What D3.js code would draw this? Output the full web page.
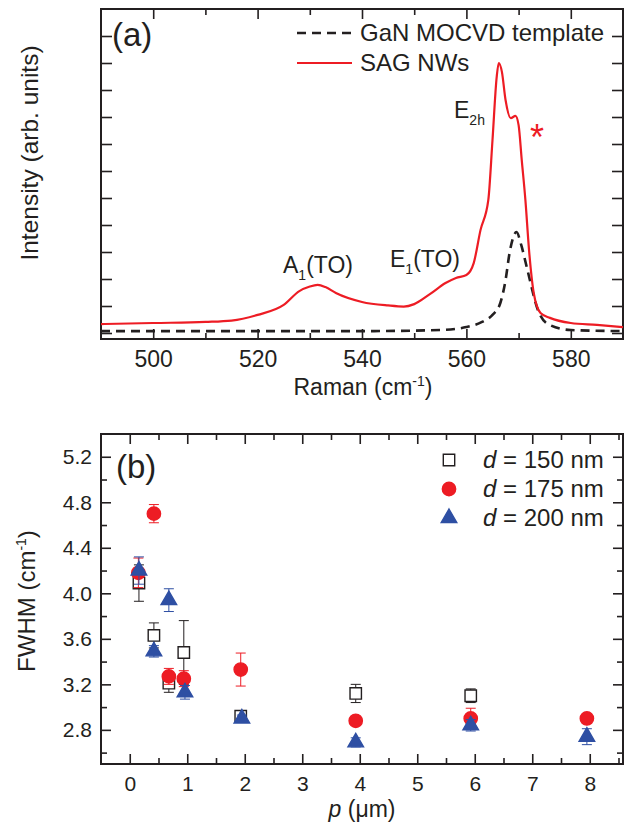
<!DOCTYPE html>
<html>
<head>
<meta charset="utf-8">
<script src="https://cdn.jsdelivr.net/npm/d3@7"></script>
<style>
  body { margin: 0; background: #fff; }
  text { font-family: "Liberation Sans", Arial, sans-serif; fill: #231f20; }
</style>
</head>
<body>
<svg id="chart"></svg>
<script>
// ---- panel (a) data: Raman spectra ----
const nwShift = [490, 500, 510, 515, 520, 525, 528, 530, 531.5, 533, 535, 540, 545, 548, 550, 553, 556, 558, 560,
  561.4, 562.7, 564.2, 565, 565.8, 566.2, 566.8, 567.5, 568.5, 569.4, 570, 570.6, 571.3, 572, 572.9, 574.2, 576, 580, 585, 590];
const nwIntensity = [0.33, 0.37, 0.41, 0.46, 0.67, 1.04, 1.55, 1.72, 1.78, 1.70, 1.48, 1.15, 1.02, 0.98, 1.07, 1.44, 1.85, 2.04, 2.15,
  2.59, 3.81, 4.93, 7.15, 9.48, 10.0, 9.67, 8.63, 7.96, 8.04, 7.70, 6.41, 4.93, 3.07, 1.48, 0.74, 0.56, 0.37, 0.30, 0.22];
const tplShift = [490, 520, 540, 555, 560, 563, 565, 566.5, 567.5, 568.3, 569.6, 570.5, 571.7, 573.7, 575.6, 580, 590];
const tplIntensity = [0.07, 0.07, 0.07, 0.11, 0.22, 0.41, 0.67, 1.11, 1.96, 3.0, 3.74, 3.26, 2.33, 0.85, 0.33, 0.11, 0.07];
const ramanTicks = [500, 520, 540, 560, 580];

// ---- panel (b) data: FWHM vs pitch ----
const p150 = [0.16, 0.42, 0.68, 0.94, 1.93, 3.93, 5.93];
const fwhm150 = [4.09, 3.63, 3.21, 3.48, 2.92, 3.12, 3.10];
const err150 = [0.16, 0.11, 0.08, 0.28, 0.03, 0.08, 0.06];
const p175 = [0.15, 0.42, 0.68, 0.94, 1.93, 3.93, 5.93, 7.95];
const fwhm175 = [4.18, 4.70, 3.27, 3.25, 3.33, 2.88, 2.90, 2.90];
const err175 = [0.13, 0.08, 0.07, 0.07, 0.145, 0.02, 0.09, 0.02];
const p200 = [0.16, 0.42, 0.68, 0.96, 1.95, 3.93, 5.93, 7.95];
const fwhm200 = [4.20, 3.49, 3.94, 3.13, 2.90, 2.69, 2.84, 2.74];
const err200 = [0.12, 0.05, 0.10, 0.06, 0.03, 0.04, 0.05, 0.07];
const fwhmTicks = [2.8, 3.2, 3.6, 4.0, 4.4, 4.8, 5.2];
const pitchTicks = [0, 1, 2, 3, 4, 5, 6, 7, 8];

const WIDTH = 624, HEIGHT = 828;
const INK = "#231f20", RED = "#ed1c24", BLUE = "#2e4fa3";

const svg = d3.select("#chart").attr("width", WIDTH).attr("height", HEIGHT);

// panel boxes
const A = { left: 101, right: 623, top: 9, bottom: 339 };
const B = { left: 101, right: 623, top: 434, bottom: 764 };

function styleAxis(size) {
  return g => {
    g.select(".domain").remove();
    g.selectAll(".tick line").attr("stroke", INK).attr("stroke-width", 1.6);
    g.selectAll(".tick text").style("font-size", size + "px").attr("fill", INK);
  };
}

// ================= panel (a) =================
const xA = d3.scaleLinear().domain([490, 590]).range([A.left, A.right]);
const yA = d3.scaleLinear().domain([-6 / 27, 12]).range([A.bottom, A.top]);

const ga = svg.append("g");
const minorRaman = d3.range(510, 590, 20);

ga.append("g").attr("transform", `translate(0,${A.bottom})`)
  .call(d3.axisBottom(xA).tickValues(minorRaman).tickSize(-6).tickFormat("")).call(styleAxis(23));
ga.append("g").attr("transform", `translate(0,${A.bottom})`)
  .call(d3.axisBottom(xA).tickValues(ramanTicks).tickSize(-10).tickPadding(12)).call(styleAxis(23));
ga.append("g").attr("transform", `translate(0,${A.top})`)
  .call(d3.axisTop(xA).tickValues(minorRaman).tickSize(-6).tickFormat("")).call(styleAxis(23));
ga.append("g").attr("transform", `translate(0,${A.top})`)
  .call(d3.axisTop(xA).tickValues(ramanTicks).tickSize(-10).tickFormat("")).call(styleAxis(23));
ga.append("g").attr("transform", `translate(${A.left},0)`)
  .call(d3.axisLeft(yA).tickValues(d3.range(0, 12)).tickSize(-11).tickFormat("")).call(styleAxis(23));
ga.append("g").attr("transform", `translate(${A.right},0)`)
  .call(d3.axisRight(yA).tickValues(d3.range(0, 12)).tickSize(-11).tickFormat("")).call(styleAxis(23));

ga.append("rect")
  .attr("x", A.left).attr("y", A.top)
  .attr("width", A.right - A.left).attr("height", A.bottom - A.top)
  .attr("fill", "none").attr("stroke", INK).attr("stroke-width", 2);

const lineSpec = d3.line().x(d => xA(d[0])).y(d => yA(d[1])).curve(d3.curveMonotoneX);

ga.append("path")
  .datum(tplShift.map((s, i) => [s, tplIntensity[i]]))
  .attr("d", lineSpec)
  .attr("fill", "none").attr("stroke", INK).attr("stroke-width", 2.6)
  .attr("stroke-dasharray", "9,6");

ga.append("path")
  .datum(nwShift.map((s, i) => [s, nwIntensity[i]]))
  .attr("d", lineSpec)
  .attr("fill", "none").attr("stroke", RED).attr("stroke-width", 2.2);

// legend (a)
ga.append("line").attr("x1", 297).attr("x2", 352).attr("y1", 33).attr("y2", 33)
  .attr("stroke", INK).attr("stroke-width", 2.6).attr("stroke-dasharray", "9,6");
ga.append("text").attr("x", 360).attr("y", 41).style("font-size", "24px").text("GaN MOCVD template");
ga.append("line").attr("x1", 297).attr("x2", 352).attr("y1", 63).attr("y2", 63)
  .attr("stroke", RED).attr("stroke-width", 2.2);
ga.append("text").attr("x", 360).attr("y", 71).style("font-size", "24px").text("SAG NWs");

ga.append("text").attr("x", 112).attr("y", 46).style("font-size", "33px").text("(a)");

// peak labels
function subLabel(g, x, y, main, sub, rest) {
  const t = g.append("text").attr("x", x).attr("y", y).style("font-size", "23px");
  t.append("tspan").text(main);
  t.append("tspan").attr("dy", 7).style("font-size", "14px").text(sub);
  if (rest) t.append("tspan").attr("dy", -7).text(rest);
}
subLabel(ga, 283, 273, "A", "1", "(TO)");
subLabel(ga, 390, 267, "E", "1", "(TO)");
subLabel(ga, 454, 118, "E", "2h", null);
ga.append("text").attr("x", 537).attr("y", 150).attr("text-anchor", "middle")
  .style("font-size", "36px").style("fill", RED).text("*");

// axis titles (a)
const xtA = ga.append("text").attr("x", 363).attr("y", 395).attr("text-anchor", "middle").style("font-size", "23px");
xtA.append("tspan").text("Raman (cm");
xtA.append("tspan").attr("dy", -9).style("font-size", "14px").text("-1");
xtA.append("tspan").attr("dy", 9).text(")");

ga.append("text").attr("transform", "translate(38,153) rotate(-90)").attr("text-anchor", "middle")
  .style("font-size", "24.5px").text("Intensity (arb. units)");

// ================= panel (b) =================
const xB = d3.scaleLinear().domain([-0.5, 8.6]).range([B.left, B.left + 9.1 * 57.5]);
const yB = d3.scaleLinear().domain([2.5, 5.4]).range([B.bottom, B.top]);

const gb = svg.append("g");

const halfTicks = d3.range(0, 8.6, 0.5).filter(v => Math.abs(v - Math.round(v)) > 0.1);
const minorY = d3.range(2.6, 5.4, 0.4);

gb.append("g").attr("transform", `translate(0,${B.bottom})`)
  .call(d3.axisBottom(xB).tickValues(halfTicks).tickSize(-6).tickFormat("")).call(styleAxis(21));
gb.append("g").attr("transform", `translate(0,${B.bottom})`)
  .call(d3.axisBottom(xB).tickValues(pitchTicks).tickSize(-10).tickPadding(12)).call(styleAxis(21));
gb.append("g").attr("transform", `translate(0,${B.top})`)
  .call(d3.axisTop(xB).tickValues(halfTicks).tickSize(-6).tickFormat("")).call(styleAxis(21));
gb.append("g").attr("transform", `translate(0,${B.top})`)
  .call(d3.axisTop(xB).tickValues(pitchTicks).tickSize(-10).tickFormat("")).call(styleAxis(21));
gb.append("g").attr("transform", `translate(${B.left},0)`)
  .call(d3.axisLeft(yB).tickValues(minorY).tickSize(-6).tickFormat("")).call(styleAxis(21));
gb.append("g").attr("transform", `translate(${B.left},0)`)
  .call(d3.axisLeft(yB).tickValues(fwhmTicks).tickSize(-10).tickPadding(9).tickFormat(d3.format(".1f"))).call(styleAxis(21));
gb.append("g").attr("transform", `translate(${B.right},0)`)
  .call(d3.axisRight(yB).tickValues(minorY).tickSize(-6).tickFormat("")).call(styleAxis(21));
gb.append("g").attr("transform", `translate(${B.right},0)`)
  .call(d3.axisRight(yB).tickValues(fwhmTicks).tickSize(-10).tickFormat("")).call(styleAxis(21));

gb.append("rect")
  .attr("x", B.left).attr("y", B.top)
  .attr("width", B.right - B.left).attr("height", B.bottom - B.top)
  .attr("fill", "none").attr("stroke", INK).attr("stroke-width", 2);

const series = [
  { p: p150, v: fwhm150, e: err150, sym: d3.symbolSquare, size: 130, fill: "#fff", stroke: INK, err: INK, label: "150" },
  { p: p175, v: fwhm175, e: err175, sym: d3.symbolCircle, size: 140, fill: RED, stroke: RED, err: RED, label: "175" },
  { p: p200, v: fwhm200, e: err200, sym: d3.symbolTriangle, size: 105, fill: BLUE, stroke: BLUE, err: BLUE, label: "200" }
];

series.forEach(s => {
  const pts = s.p.map((p, i) => ({ p, v: s.v[i], e: s.e[i] }));
  const eb = gb.append("g").selectAll("g").data(pts).enter().append("g");
  eb.append("line")
    .attr("x1", d => xB(d.p)).attr("x2", d => xB(d.p))
    .attr("y1", d => yB(d.v - d.e)).attr("y2", d => yB(d.v + d.e))
    .attr("stroke", s.err).attr("stroke-width", 1);
  [-1, 1].forEach(sg => {
    eb.append("line")
      .attr("x1", d => xB(d.p) - 5).attr("x2", d => xB(d.p) + 5)
      .attr("y1", d => yB(d.v + sg * d.e)).attr("y2", d => yB(d.v + sg * d.e))
      .attr("stroke", s.err).attr("stroke-width", 1);
  });
  gb.append("g").selectAll("path").data(pts).enter().append("path")
    .attr("transform", d => `translate(${xB(d.p)},${yB(d.v)})`)
    .attr("d", d3.symbol().type(s.sym).size(s.size))
    .attr("fill", s.fill).attr("stroke", s.stroke).attr("stroke-width", 1.4);
});

// legend (b)
series.forEach((s, i) => {
  const y = 460 + i * 29;
  gb.append("path")
    .attr("transform", `translate(449,${y})`)
    .attr("d", d3.symbol().type(s.sym).size(s.size))
    .attr("fill", s.fill).attr("stroke", s.stroke).attr("stroke-width", 1.4);
  const t = gb.append("text").attr("x", 483).attr("y", y + 8).style("font-size", "24px");
  t.append("tspan").style("font-style", "italic").text("d");
  t.append("tspan").text(` = ${s.label} nm`);
});

gb.append("text").attr("x", 116).attr("y", 478).style("font-size", "33px").text("(b)");

const xtB = gb.append("text").attr("x", 362).attr("y", 817).attr("text-anchor", "middle").style("font-size", "23px");
xtB.append("tspan").style("font-style", "italic").text("p");
xtB.append("tspan").text(" (μm)");

const ytB = gb.append("text").attr("transform", "translate(35,601) rotate(-90)").attr("text-anchor", "middle")
  .style("font-size", "24px");
ytB.append("tspan").text("FWHM (cm");
ytB.append("tspan").attr("dy", -9).style("font-size", "14px").text("-1");
ytB.append("tspan").attr("dy", 9).text(")");
</script>
</body>
</html>
